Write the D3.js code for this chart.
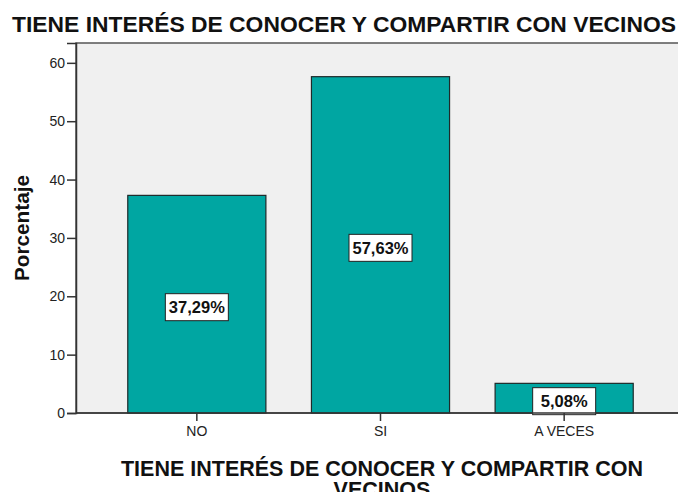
<!DOCTYPE html>
<html>
<head>
<meta charset="utf-8">
<script src="https://cdn.jsdelivr.net/npm/d3@7"></script>
<style>
  body { margin: 0; background: #fff; }
  svg { display: block; }
</style>
</head>
<body>
<div id="chart"></div>
<script>
// -------------------- DATA --------------------
const categories = ["NO", "SI", "A VECES"];
const percentages = [37.29, 57.63, 5.08];
const valueLabels = ["37,29%", "57,63%", "5,08%"];
const yTicks = [0, 10, 20, 30, 40, 50, 60];

const chartTitle = "TIENE INTERÉS DE CONOCER Y COMPARTIR CON VECINOS";
const xTitleLines = ["TIENE INTERÉS DE CONOCER Y COMPARTIR CON", "VECINOS"];
const yTitle = "Porcentaje";

// -------------------- CHART --------------------
const width = 678, height = 492;
const fontFamily = "Arial, 'Liberation Sans', Helvetica, sans-serif";
const margin = { top: 43, right: -4, bottom: 79, left: 76 };

const svg = d3.select("#chart")
    .append("svg")
    .attr("width", width)
    .attr("height", height);

let x = d3.scaleBand()
    .domain(categories)
    .range([105, 656])
    .paddingInner(0.248)
    .paddingOuter(0.124);

let y = d3.scaleLinear()
    .domain([0, 63.4])
    .range([height - margin.bottom, margin.top]);

// plot background
svg.append("rect")
    .attr("x", margin.left)
    .attr("y", margin.top)
    .attr("width", width - margin.left - margin.right)
    .attr("height", y(0) - margin.top)
    .attr("fill", "#f0f0f0")
    .attr("stroke", "#555")
    .attr("stroke-width", 1.5);

// bars
svg.append("g")
    .selectAll("rect")
    .data(percentages)
    .join("rect")
    .attr("x", (d, i) => x(categories[i]))
    .attr("y", d => y(d))
    .attr("width", x.bandwidth())
    .attr("height", d => y(0) - y(d))
    .attr("fill", "#00a6a2")
    .attr("stroke", "#1e2a2a")
    .attr("stroke-width", 1.2);

// value labels in boxes
const labels = svg.append("g")
    .selectAll("g")
    .data(percentages)
    .join("g")
    .attr("transform", (d, i) =>
        `translate(${x(categories[i]) + x.bandwidth() / 2},${y(d / 2) + 3})`);

labels.append("rect")
    .attr("x", -31.5)
    .attr("y", -13.5)
    .attr("width", 63)
    .attr("height", 27)
    .attr("fill", "#fff")
    .attr("stroke", "#222")
    .attr("stroke-width", 1);

labels.append("text")
    .attr("text-anchor", "middle")
    .attr("dy", "0.36em")
    .attr("font-family", fontFamily)
    .attr("font-weight", "bold")
    .attr("font-size", 16.5)
    .attr("fill", "#111")
    .text((d, i) => valueLabels[i]);

// axes
let yAxis = g => g
    .attr("transform", `translate(${margin.left},0)`)
    .call(d3.axisLeft(y).tickValues(yTicks).tickSize(9).tickPadding(2))
    .call(g => g.select(".domain").attr("stroke", "#333").attr("stroke-width", 1.5))
    .call(g => g.selectAll(".tick line").attr("stroke", "#333").attr("stroke-width", 1.5))
    .call(g => g.selectAll("text")
        .attr("font-family", fontFamily)
        .attr("font-size", 14)
        .attr("fill", "#222"));

let xAxis = g => g
    .attr("transform", `translate(0,${y(0)})`)
    .call(d3.axisBottom(x).tickSize(8).tickSizeOuter(0).tickPadding(5))
    .call(g => g.select(".domain").remove())
    .call(g => g.selectAll(".tick line").attr("stroke", "#333").attr("stroke-width", 1.5))
    .call(g => g.selectAll("text")
        .attr("font-family", fontFamily)
        .attr("font-size", 14)
        .attr("fill", "#222"));

svg.append("g").call(yAxis);
svg.append("g").call(xAxis);

// bottom axis line across plot
svg.append("line")
    .attr("x1", margin.left)
    .attr("x2", width)
    .attr("y1", y(0))
    .attr("y2", y(0))
    .attr("stroke", "#333")
    .attr("stroke-width", 1.5);

// titles
svg.append("text")
    .attr("x", 344)
    .attr("y", 32)
    .attr("text-anchor", "middle")
    .attr("font-family", fontFamily)
    .attr("font-weight", "bold")
    .attr("font-size", 22.5)
    .attr("textLength", 664)
    .attr("lengthAdjust", "spacingAndGlyphs")
    .attr("fill", "#111")
    .text(chartTitle);

svg.append("g")
    .selectAll("text")
    .data(xTitleLines)
    .join("text")
    .attr("x", 382)
    .attr("y", (d, i) => 476 + i * 21)
    .attr("text-anchor", "middle")
    .attr("font-family", fontFamily)
    .attr("font-weight", "bold")
    .attr("font-size", 21.5)
    .attr("fill", "#111")
    .text(d => d);

svg.append("text")
    .attr("transform", `translate(29,${(margin.top + y(0)) / 2}) rotate(-90)`)
    .attr("text-anchor", "middle")
    .attr("font-family", fontFamily)
    .attr("font-weight", "bold")
    .attr("font-size", 20)
    .attr("textLength", 106)
    .attr("lengthAdjust", "spacingAndGlyphs")
    .attr("fill", "#111")
    .text(yTitle);
</script>
</body>
</html>
